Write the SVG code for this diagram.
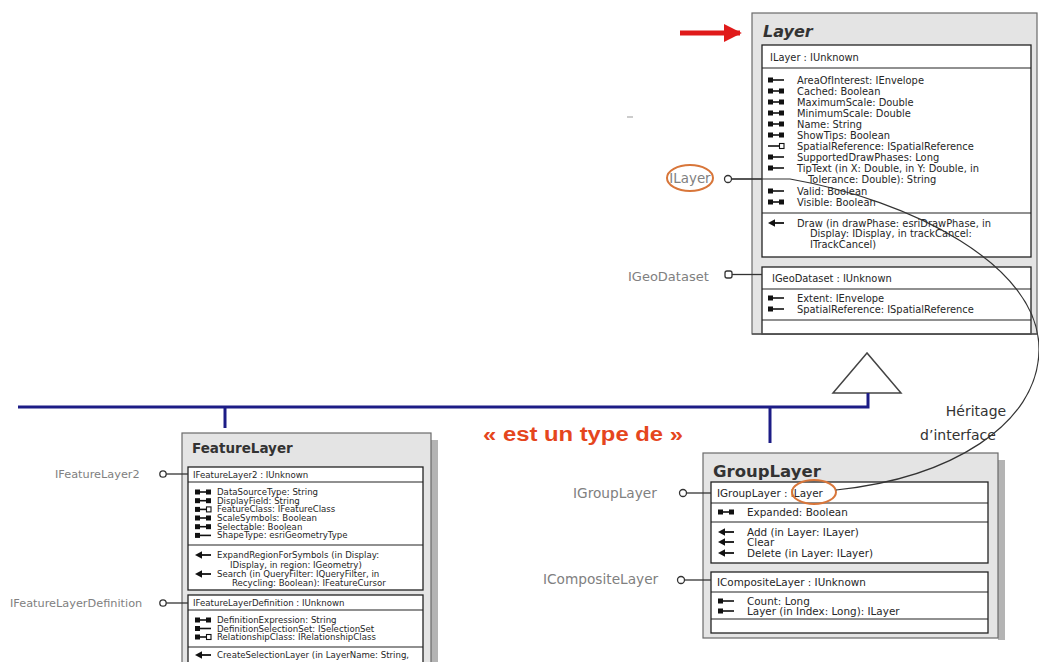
<svg xmlns="http://www.w3.org/2000/svg" width="1039" height="662" viewBox="0 0 1039 662">
  <style>
    .outer { fill: #e4e4e4; stroke: #6a6a6a; stroke-width: 1.2; }
    .shade { fill: #b4b4b4; }
    .iface { fill: #ffffff; stroke: #222; stroke-width: 1.3; }
    .sep { stroke: #222; stroke-width: 1.2; }
    .t { font-family: "DejaVu Sans", "Liberation Sans", sans-serif; fill: #262626; }
    .big { font-size: 9.9px; }
    .med { font-size: 10.4px; }
    .sm { font-size: 8.6px; }
    .title { font-family: "DejaVu Sans", sans-serif; font-weight: bold; fill: #333; }
    .lbl { font-family: "DejaVu Sans", "Liberation Sans", sans-serif; fill: #808080; }
    .lolli { fill: #fff; stroke: #333; stroke-width: 1.3; }
    .stem { stroke: #333; stroke-width: 1.3; }
    .hl { fill: none; stroke: #d8763a; stroke-width: 2; }
    .blue { stroke: #1c1c86; stroke-width: 3; fill: none; }
  </style>
  <defs>
    <!-- member icons: origin at left, vertical centre -->
    <g id="rw">
      <rect x="0" y="-2.5" width="5" height="5" fill="#111"/>
      <line x1="5" y1="0" x2="11" y2="0" stroke="#111" stroke-width="1.6"/>
      <rect x="11" y="-2.5" width="5" height="5" fill="#111"/>
    </g>
    <g id="ro">
      <rect x="0" y="-2.5" width="5" height="5" fill="#111"/>
      <line x1="5" y1="0" x2="16" y2="0" stroke="#111" stroke-width="1.6"/>
    </g>
    <g id="pr">
      <line x1="0" y1="0" x2="11" y2="0" stroke="#111" stroke-width="1.6"/>
      <rect x="11.5" y="-2.5" width="4.5" height="5" fill="#fff" stroke="#111" stroke-width="1.1"/>
    </g>
    <g id="rr">
      <rect x="0" y="-2.5" width="5" height="5" fill="#111"/>
      <line x1="5" y1="0" x2="11" y2="0" stroke="#111" stroke-width="1.6"/>
      <rect x="11.5" y="-2.5" width="4.5" height="5" fill="#fff" stroke="#111" stroke-width="1.1"/>
    </g>
    <g id="mt">
      <polygon points="0,0 7,-3.8 7,3.8" fill="#111"/>
      <line x1="6" y1="0" x2="16" y2="0" stroke="#111" stroke-width="1.8"/>
    </g>
    <marker id="redhead" viewBox="0 0 10 10" refX="9" refY="5" markerWidth="3.6" markerHeight="3.6" orient="auto">
      <path d="M0,0 L10,5 L0,10 z" fill="#e01a1a"/>
    </marker>
  </defs>

  <rect width="1039" height="662" fill="#ffffff"/>

  <!-- pointer to the base class -->
  <line x1="680" y1="33" x2="740" y2="33" stroke="#e01a1a" stroke-width="5" marker-end="url(#redhead)"/>
  <line x1="627" y1="117" x2="633" y2="117" stroke="#999" stroke-width="1"/>

  <!-- Layer class -->
  <g id="layer">
    <rect class="outer" x="752" y="13" width="285" height="321"/>
    <text class="title" x="763" y="37" font-size="16" font-style="italic">Layer</text>

    <rect class="iface" x="762" y="45" width="269" height="212"/>
    <line class="sep" x1="762" y1="68" x2="1031" y2="68"/>
    <line class="sep" x1="762" y1="213" x2="1031" y2="213"/>
    <text class="t big" x="770" y="61">ILayer : IUnknown</text>

    <use href="#ro" x="768" y="80"/>
    <text class="t big" x="797" y="83.5">AreaOfInterest: IEnvelope</text>
    <use href="#rw" x="768" y="91"/>
    <text class="t big" x="797" y="94.5">Cached: Boolean</text>
    <use href="#rw" x="768" y="102"/>
    <text class="t big" x="797" y="105.5">MaximumScale: Double</text>
    <use href="#rw" x="768" y="113"/>
    <text class="t big" x="797" y="116.5">MinimumScale: Double</text>
    <use href="#rw" x="768" y="124"/>
    <text class="t big" x="797" y="127.5">Name: String</text>
    <use href="#rw" x="768" y="135"/>
    <text class="t big" x="797" y="138.5">ShowTips: Boolean</text>
    <use href="#pr" x="768" y="146"/>
    <text class="t big" x="797" y="149.5">SpatialReference: ISpatialReference</text>
    <use href="#ro" x="768" y="157"/>
    <text class="t big" x="797" y="160.5">SupportedDrawPhases: Long</text>
    <use href="#ro" x="768" y="168"/>
    <text class="t big" x="797" y="171.5">TipText (in X: Double, in Y: Double, in</text>
    <text class="t big" x="808" y="182.5">Tolerance: Double): String</text>
    <use href="#ro" x="768" y="191"/>
    <text class="t big" x="797" y="194.5">Valid: Boolean</text>
    <use href="#rw" x="768" y="202"/>
    <text class="t big" x="797" y="205.5">Visible: Boolean</text>

    <use href="#mt" x="768" y="223"/>
    <text class="t big" x="797" y="226.5">Draw (in drawPhase: esriDrawPhase, in</text>
    <text class="t big" x="810" y="237">Display: IDisplay, in trackCancel:</text>
    <text class="t big" x="810" y="247.5">ITrackCancel)</text>

    <rect class="iface" x="762" y="267" width="269" height="67"/>
    <line class="sep" x1="762" y1="289" x2="1031" y2="289"/>
    <line class="sep" x1="762" y1="320" x2="1031" y2="320"/>
    <text class="t big" x="772" y="282">IGeoDataset : IUnknown</text>
    <use href="#ro" x="768" y="298"/>
    <text class="t big" x="797" y="301.5">Extent: IEnvelope</text>
    <use href="#ro" x="768" y="309"/>
    <text class="t big" x="797" y="312.5">SpatialReference: ISpatialReference</text>
    <line x1="752" y1="334" x2="1037" y2="334" stroke="#555" stroke-width="1.5"/>

    <!-- exposed interfaces -->
    <ellipse class="hl" cx="690" cy="178" rx="23" ry="13"/>
    <text class="lbl" x="690" y="183" font-size="13.4" text-anchor="middle" fill="#555">ILayer</text>
    <circle class="lolli" cx="728" cy="179" r="3.5"/>
    <line class="stem" x1="731.5" y1="179" x2="762" y2="179" stroke-width="2"/>

    <text class="lbl" x="628" y="281" font-size="13">IGeoDataset</text>
    <rect class="lolli" x="725" y="271" width="7" height="7" rx="2"/>
    <line class="stem" x1="732" y1="274.5" x2="762" y2="274.5"/>
  </g>

  <!-- FeatureLayer class -->
  <g id="featurelayer">
    <rect class="shade" x="431" y="440" width="7" height="222"/>
    <rect class="outer" x="182" y="433" width="249" height="235"/>
    <text class="title" x="192" y="453" font-size="13.5">FeatureLayer</text>

    <rect class="iface" x="188" y="467" width="235" height="123"/>
    <line class="sep" x1="188" y1="482" x2="423" y2="482"/>
    <line class="sep" x1="188" y1="545" x2="423" y2="545"/>
    <text class="t sm" x="193" y="478">IFeatureLayer2 : IUnknown</text>
    <use href="#rw" x="195" y="492"/>
    <text class="t sm" x="217" y="495">DataSourceType: String</text>
    <use href="#rw" x="195" y="500.7"/>
    <text class="t sm" x="217" y="503.7">DisplayField: String</text>
    <use href="#rr" x="195" y="509.4"/>
    <text class="t sm" x="217" y="512.4">FeatureClass: IFeatureClass</text>
    <use href="#rw" x="195" y="518"/>
    <text class="t sm" x="217" y="521">ScaleSymbols: Boolean</text>
    <use href="#rw" x="195" y="526.7"/>
    <text class="t sm" x="217" y="529.7">Selectable: Boolean</text>
    <use href="#ro" x="195" y="535.4"/>
    <text class="t sm" x="217" y="538.4">ShapeType: esriGeometryType</text>
    <use href="#mt" x="195" y="555"/>
    <text class="t sm" x="217" y="558">ExpandRegionForSymbols (in Display:</text>
    <text class="t sm" x="230" y="567.5">IDisplay, in region: IGeometry)</text>
    <use href="#mt" x="195" y="574"/>
    <text class="t sm" x="217" y="577">Search (in QueryFilter: IQueryFilter, in</text>
    <text class="t sm" x="232" y="586">Recycling: Boolean): IFeatureCursor</text>

    <rect class="iface" x="188" y="595" width="235" height="75"/>
    <line class="sep" x1="188" y1="610" x2="423" y2="610"/>
    <line class="sep" x1="188" y1="647" x2="423" y2="647"/>
    <text class="t sm" x="193" y="605.5">IFeatureLayerDefinition : IUnknown</text>
    <use href="#rw" x="195" y="620"/>
    <text class="t sm" x="217" y="623">DefinitionExpression: String</text>
    <use href="#ro" x="195" y="628.5"/>
    <text class="t sm" x="217" y="631.5">DefinitionSelectionSet: ISelectionSet</text>
    <use href="#rr" x="195" y="637"/>
    <text class="t sm" x="217" y="640">RelationshipClass: IRelationshipClass</text>
    <use href="#mt" x="195" y="655"/>
    <text class="t sm" x="217" y="658">CreateSelectionLayer (in LayerName: String,</text>

    <text class="lbl" x="55" y="478" font-size="11.3">IFeatureLayer2</text>
    <circle class="lolli" cx="163" cy="474" r="3.2"/>
    <line class="stem" x1="166.2" y1="474" x2="188" y2="474"/>
    <text class="lbl" x="10" y="607" font-size="11.3">IFeatureLayerDefinition</text>
    <circle class="lolli" cx="163" cy="603" r="3.2"/>
    <line class="stem" x1="166.2" y1="603" x2="188" y2="603"/>
  </g>

  <!-- GroupLayer class -->
  <g id="grouplayer">
    <rect class="shade" x="998" y="460" width="7" height="180"/>
    <rect class="outer" x="703" y="453" width="295" height="185"/>
    <text class="title" x="713" y="477" font-size="16.5">GroupLayer</text>

    <rect class="iface" x="711" y="482" width="277" height="81"/>
    <line class="sep" x1="711" y1="503" x2="988" y2="503"/>
    <line class="sep" x1="711" y1="522" x2="988" y2="522"/>
    <text class="t med" x="717" y="497">IGroupLayer : ILayer</text>
    <ellipse class="hl" cx="814" cy="492" rx="22" ry="12"/>
    <use href="#rw" x="718" y="512"/>
    <text class="t med" x="747" y="515.5">Expanded: Boolean</text>
    <use href="#mt" x="718" y="532"/>
    <text class="t med" x="747" y="535.5">Add (in Layer: ILayer)</text>
    <use href="#mt" x="718" y="542"/>
    <text class="t med" x="747" y="545.5">Clear</text>
    <use href="#mt" x="718" y="553"/>
    <text class="t med" x="747" y="556.5">Delete (in Layer: ILayer)</text>

    <rect class="iface" x="711" y="572" width="277" height="61"/>
    <line class="sep" x1="711" y1="592" x2="988" y2="592"/>
    <line class="sep" x1="711" y1="619" x2="988" y2="619"/>
    <text class="t med" x="717" y="586">ICompositeLayer : IUnknown</text>
    <use href="#ro" x="718" y="601"/>
    <text class="t med" x="747" y="604.5">Count: Long</text>
    <use href="#ro" x="718" y="611"/>
    <text class="t med" x="747" y="614.5">Layer (in Index: Long): ILayer</text>

    <text class="lbl" x="573" y="498" font-size="13.7" fill="#6a6a6a">IGroupLayer</text>
    <circle class="lolli" cx="683" cy="493" r="3.5"/>
    <line class="stem" x1="686.5" y1="493" x2="711" y2="493"/>
    <text class="lbl" x="543" y="584" font-size="13.7" fill="#6a6a6a">ICompositeLayer</text>
    <circle class="lolli" cx="681" cy="580" r="3.5"/>
    <line class="stem" x1="684.5" y1="580" x2="711" y2="580"/>
  </g>

  <!-- inheritance connectors -->
  <g id="connectors">
    <polygon points="867,353 833,393 901,393" fill="#fff" stroke="#444" stroke-width="1.5"/>
    <polyline class="blue" points="18,407 868,407 868,393"/>
    <line class="blue" x1="225" y1="407" x2="225" y2="428"/>
    <line class="blue" x1="770" y1="407" x2="770" y2="443"/>
    <!-- interface inheritance: ILayer on Layer to ILayer on GroupLayer -->
    <path d="M 731 179 L 790 179 C 910 200, 1040 265, 1039 350 C 1038 425, 950 478, 836 490" fill="none" stroke="#333" stroke-width="1.2"/>
  </g>

  <text x="483" y="441" font-family="Liberation Sans, Arial, sans-serif" font-weight="bold" font-size="20" fill="#e5461d" textLength="200" lengthAdjust="spacingAndGlyphs">« est un type de »</text>
  <text x="976" y="416" font-family="DejaVu Sans, sans-serif" font-size="14" fill="#333" text-anchor="middle">Héritage</text>
  <text x="958" y="440" font-family="DejaVu Sans, sans-serif" font-size="14" fill="#333" text-anchor="middle">d’interface</text>
</svg>
